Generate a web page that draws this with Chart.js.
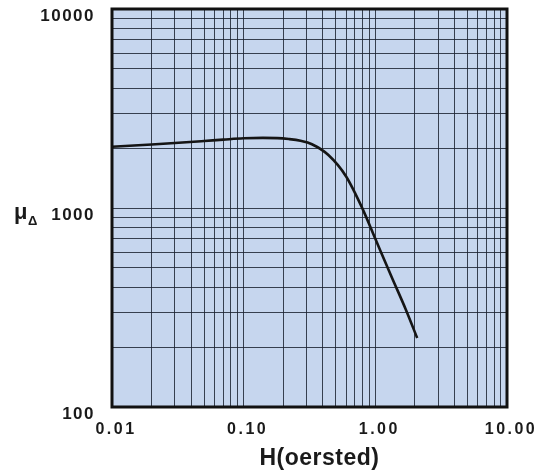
<!DOCTYPE html>
<html>
<head>
<meta charset="utf-8">
<script src="https://cdn.jsdelivr.net/npm/chart.js@4.4.1/dist/chart.umd.min.js"></script>
<style>
  html, body { margin: 0; padding: 0; background: #fff; }
  #wrap { width: 554px; height: 470px; }
</style>
</head>
<body>
<div id="wrap"><canvas id="chart" width="554" height="470"></canvas></div>
<script>
// H (oersted) vs incremental permeability
const fieldH = [0.01, 0.02, 0.03, 0.05, 0.07, 0.1, 0.14, 0.18, 0.22, 0.27, 0.33, 0.44, 0.6, 0.8, 1.0, 1.33, 1.7, 2.08];
const permeability = [2030, 2085, 2120, 2170, 2205, 2240, 2250, 2245, 2220, 2175, 2090, 1845, 1440, 990, 700, 450, 310, 222];

// grid lines (log decades with all minor steps)
const xTicks = [0.01, 0.02, 0.03, 0.04, 0.05, 0.06, 0.07, 0.08, 0.09,
                0.1, 0.2, 0.3, 0.4, 0.5, 0.6, 0.7, 0.8, 0.9,
                1, 2, 3, 4, 5, 6, 7, 8, 9, 10];
const yTicks = [100, 200, 300, 400, 500, 600, 700, 800, 900,
                1000, 2000, 3000, 4000, 5000, 6000, 7000, 8000, 9000, 10000];
const xLabels = { 0.01: '0.01', 0.1: '0.10', 1: '1.00', 10: '10.00' };
const yLabels = { 100: '100', 1000: '1000', 10000: '10000' };

const FONT = "'Liberation Sans', Arial, sans-serif";
const gridColor = 'rgba(28, 36, 50, 0.85)';

const plotDecor = {
  id: 'plotDecor',
  beforeDraw(chart) {
    const { ctx, chartArea: a } = chart;
    ctx.save();
    ctx.fillStyle = '#c6d6ee';
    ctx.fillRect(a.left, a.top, a.right - a.left, a.bottom - a.top);
    ctx.restore();
    ctx.letterSpacing = '1.5px';   // y tick labels
  },
  afterDatasetsDraw(chart) {
    chart.ctx.letterSpacing = '2.5px'; // x tick labels (drawn in upper layer)
  },
  afterDraw(chart) {
    const { ctx, chartArea: a } = chart;
    ctx.letterSpacing = '0px';
    ctx.save();
    ctx.strokeStyle = '#111';
    ctx.lineWidth = 3;
    ctx.strokeRect(a.left, a.top, a.right - a.left, a.bottom - a.top);

    ctx.fillStyle = '#1a1a1a';
    ctx.textAlign = 'center';
    ctx.textBaseline = 'alphabetic';
    ctx.letterSpacing = '0.5px';
    ctx.font = 'bold 23px ' + FONT;
    ctx.fillText('H(oersted)', (a.left + a.right) / 2 + 10, 465);

    ctx.letterSpacing = '0px';
    ctx.textAlign = 'left';
    ctx.font = 'bold 22px ' + FONT;
    ctx.fillText('\u03bc', 14, 219);
    ctx.font = 'bold 13px ' + FONT;
    ctx.fillText('\u0394', 28, 225);
    ctx.restore();
  }
};

new Chart(document.getElementById('chart'), {
  type: 'line',
  data: {
    datasets: [{
      data: fieldH.map((h, i) => ({ x: h, y: permeability[i] })),
      borderColor: '#151515',
      borderWidth: 2.6,
      pointRadius: 0,
      cubicInterpolationMode: 'monotone',
      fill: false,
    }],
  },
  options: {
    responsive: false,
    animation: false,
    layout: { padding: { top: 9, right: 47, left: 0, bottom: 0 } },
    plugins: {
      legend: { display: false },
      tooltip: { enabled: false },
    },
    scales: {
      x: {
        type: 'logarithmic',
        min: 0.01,
        max: 10,
        afterBuildTicks: (scale) => { scale.ticks = xTicks.map((v) => ({ value: v })); },
        afterFit: (scale) => {
          scale.height = 63;
          scale.paddingLeft = 0;
          scale.paddingRight = 0;
        },
        grid: { color: gridColor, lineWidth: 1, drawTicks: false },
        border: { display: false },
        ticks: {
          z: 1,
          autoSkip: false,
          maxRotation: 0,
          padding: 13,
          labelOffset: 4,
          color: '#1a1a1a',
          font: { family: FONT, size: 16, weight: 'bold' },
          callback: (v) => xLabels[v] || '',
        },
      },
      y: {
        type: 'logarithmic',
        min: 100,
        max: 10000,
        afterBuildTicks: (scale) => { scale.ticks = yTicks.map((v) => ({ value: v })); },
        afterFit: (scale) => {
          scale.width = 112;
          scale.paddingTop = 0;
          scale.paddingBottom = 0;
        },
        grid: { color: gridColor, lineWidth: 1, drawTicks: false },
        border: { display: false },
        ticks: {
          autoSkip: false,
          padding: 17,
          labelOffset: 7,
          color: '#1a1a1a',
          font: { family: FONT, size: 17, weight: 'bold' },
          callback: (v) => yLabels[v] || '',
        },
      },
    },
  },
  plugins: [plotDecor],
});
</script>
</body>
</html>
